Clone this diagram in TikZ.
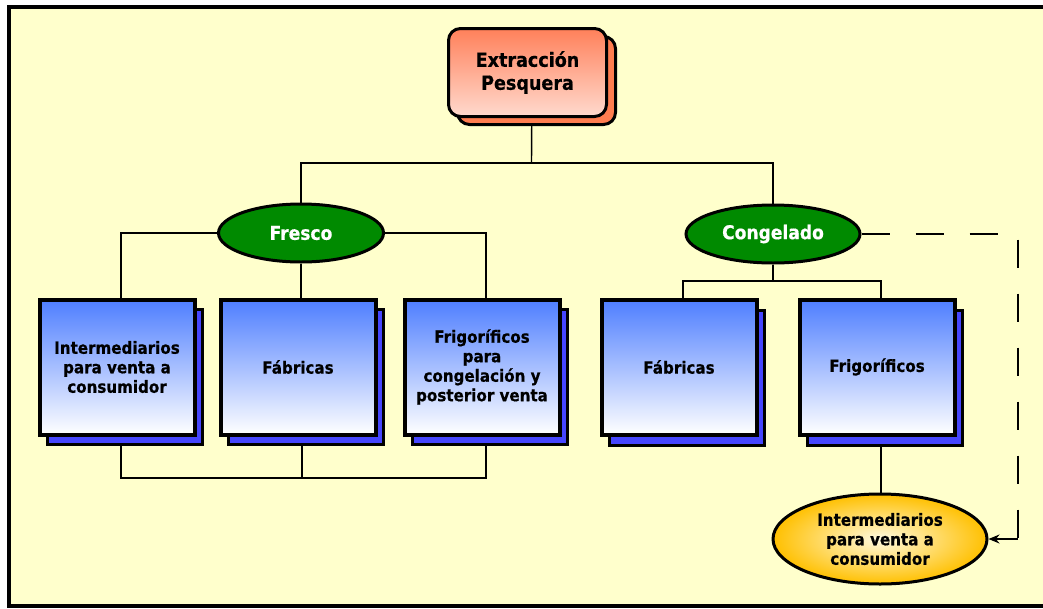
\documentclass[tikz,border=0pt]{standalone}
\usepackage{fontspec}
\usetikzlibrary{shapes.geometric,arrows.meta}
\newfontfamily\lbl{DejaVu Sans}[FakeStretch=0.9, BoldFeatures={FakeBold=0.6}]

\definecolor{paper}{RGB}{255,255,204}
\definecolor{salmontop}{RGB}{255,128,90}
\definecolor{salmonbot}{RGB}{255,218,206}
\definecolor{salmonshadow}{RGB}{255,125,80}
\definecolor{bluetop}{RGB}{78,126,255}
\definecolor{blueshadow}{RGB}{70,70,255}
\definecolor{leafgreen}{RGB}{0,138,0}
\definecolor{gold}{RGB}{255,192,0}
\definecolor{goldcenter}{RGB}{255,250,225}

\pgfdeclarelayer{paperlayer}
\pgfdeclarelayer{links}
\pgfsetlayers{paperlayer,links,main}

\tikzset{
  x=1pt, y=-1pt,
  mainbox/.style={rectangle, rounded corners=12pt, draw=black, line width=3pt,
    top color=salmontop, bottom color=salmonbot,
    minimum width=158pt, minimum height=88pt, inner sep=0pt,
    align=center, font=\lbl\bfseries\fontsize{19.5}{23}\selectfont},
  mainshadow/.style={rectangle, rounded corners=12pt, draw=black, line width=3pt,
    fill=salmonshadow, minimum width=158pt, minimum height=88pt, inner sep=0pt},
  bluebox/.style={rectangle, draw=black, line width=4pt,
    top color=bluetop, bottom color=white,
    minimum width=155pt, minimum height=135pt, inner sep=0pt,
    align=center, font=\lbl\bfseries\fontsize{16.8}{19.5}\selectfont},
  blueshade/.style={rectangle, draw=black, line width=3pt, fill=blueshadow,
    minimum width=155pt, minimum height=135pt, inner sep=0pt},
  greenoval/.style={ellipse, draw=black, line width=3pt, fill=leafgreen,
    text=white, inner sep=0pt,
    font=\lbl\bfseries\fontsize{19}{22}\selectfont},
  goldoval/.style={ellipse, draw=black, line width=3pt,
    inner color=goldcenter, outer color=gold, inner sep=0pt,
    minimum width=214pt, minimum height=90pt,
    align=center, font=\lbl\bfseries\fontsize{16.8}{19.5}\selectfont},
  link/.style={draw=black, line width=1.4pt},
  dashlink/.style={draw=black, line width=1.4pt, dash pattern=on 28pt off 26pt},
}

\begin{document}
\begin{tikzpicture}
\useasboundingbox (0,0) rectangle (1043,608);

% sheet with its black frame
\begin{pgfonlayer}{paperlayer}
  \fill[white] (0,0) rectangle (1043,608);
  \draw[line width=4pt, fill=paper] (9,6.5) rectangle (1080,605.5);
\end{pgfonlayer}

% root box
\node[mainshadow] (topsh) at (536.5,80.5) {};
\node[mainbox] (top) at (527.5,72.5) {Extracción\\Pesquera};

% first level
\node[greenoval, minimum width=165pt, minimum height=58pt] (fresco) at (301,233) {Fresco};
\node[greenoval, minimum width=174pt, minimum height=58pt] (cong) at (773,234) {Congelado};

% boxes under Fresco
\node[blueshade] (b1sh) at (125,377) {};
\node[bluebox] (b1) at (117,367) {Intermediarios\\para venta a\\consumidor};
\node[blueshade] (b2sh) at (306,377) {};
\node[bluebox] (b2) at (298,367) {Fábricas};
\node[blueshade] (b3sh) at (490,377) {};
\node[bluebox] (b3) at (482,367) {Frigoríficos\\para\\congelación y\\posterior venta};

% boxes under Congelado
\node[blueshade] (b4sh) at (687,378) {};
\node[bluebox] (b4) at (679,367) {Fábricas};
\node[blueshade] (b5sh) at (885,378) {};
\node[bluebox] (b5) at (877,367) {Frigoríficos};

% final outlet
\node[goldoval] (yel) at (880,539) {Intermediarios\\para venta a\\consumidor};

% junction points of the tree
\coordinate (split) at (531.5,163);
\coordinate (fbot) at (302,478);
\coordinate (csplit) at (773,281);
\coordinate (dturn) at (1018,539);

\begin{pgfonlayer}{links}
  \draw[link] ([xshift=4.5pt]top.center) -- (split);
  \draw[link] (fresco.north) |- (split) -| (cong.north);

  \draw[link] (fresco.west) -| ([xshift=4pt]b1.north);
  \draw[link] (fresco.east) -| ([xshift=4pt]b3.north);
  \draw[link] (fresco.south) -- (fresco.south |- b2.north);

  \draw[link] ([xshift=4pt]b2.center) -- (fbot);
  \draw[link] ([xshift=4pt]b1.center) |- (fbot) -| ([xshift=4pt]b3.center);

  \draw[link] (cong.south) -- (csplit);
  \draw[link] ([xshift=4pt]b4.north) |- (csplit) -| ([xshift=4pt]b5.north);

  \draw[link] ([xshift=4pt]b5.center) -- ([xshift=4pt]b5.center |- yel.north);
\end{pgfonlayer}

% dashed return path to the outlet
\draw[dashlink] (cong.east) -| (dturn);
\draw[link, -{Stealth[length=11pt,width=9pt]}] (dturn) -- (yel.east);

\end{tikzpicture}
\end{document}
